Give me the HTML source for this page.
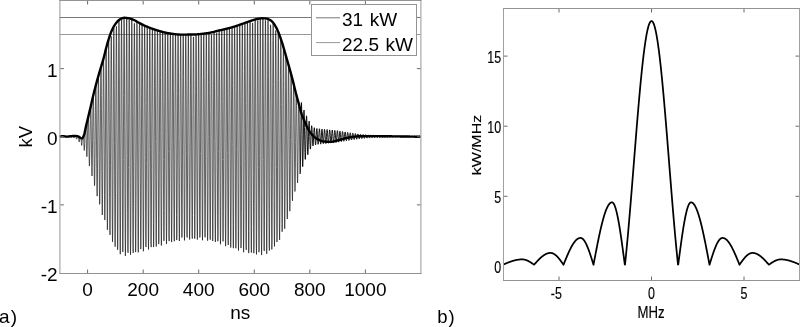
<!DOCTYPE html>
<html><head><meta charset="utf-8"><style>
html,body{margin:0;padding:0;background:#fff;overflow:hidden;}
svg{display:block;will-change:transform;}
</style></head><body>
<svg width="800" height="327" viewBox="0 0 800 327"><rect width="800" height="327" fill="#fff"/><line x1="59.5" y1="17.5" x2="420.5" y2="17.5" stroke="#777" stroke-width="1"/><line x1="59.5" y1="34.5" x2="420.5" y2="34.5" stroke="#999" stroke-width="1"/><path d="M60.04,136.78 L60.27,136.74 L60.49,136.70 L60.71,136.81 L60.93,137.03 L61.16,137.11 L61.38,137.00 L61.60,136.76 L61.82,136.55 L62.04,136.53 L62.27,136.52 L62.49,136.51 L62.71,136.50 L62.93,136.50 L63.16,136.64 L63.38,136.94 L63.60,137.11 L63.82,137.11 L64.04,136.93 L64.27,136.63 L64.49,136.62 L64.71,136.66 L64.93,136.69 L65.16,136.72 L65.38,136.76 L65.60,136.79 L65.82,136.80 L66.04,137.07 L66.27,137.18 L66.49,137.10 L66.71,136.84 L66.93,136.90 L67.16,136.90 L67.38,136.89 L67.60,136.88 L67.82,136.87 L68.04,136.85 L68.27,136.62 L68.49,136.98 L68.71,137.21 L68.93,137.24 L69.16,137.06 L69.38,136.71 L69.60,136.66 L69.82,136.63 L70.04,136.61 L70.27,136.58 L70.49,136.55 L70.71,136.53 L70.93,136.83 L71.16,137.23 L71.38,137.43 L71.60,137.37 L71.82,137.05 L72.04,136.53 L72.27,136.38 L72.49,136.36 L72.71,136.33 L72.93,136.31 L73.16,136.29 L73.38,136.62 L73.60,137.32 L73.82,137.84 L74.04,138.00 L74.27,137.72 L74.49,137.05 L74.71,136.20 L74.93,136.20 L75.16,136.20 L75.38,136.21 L75.60,136.23 L75.82,136.25 L76.04,137.25 L76.27,138.41 L76.49,139.12 L76.71,139.10 L76.93,138.28 L77.16,136.82 L77.38,136.55 L77.60,136.60 L77.82,136.66 L78.04,136.71 L78.27,136.78 L78.49,136.57 L78.71,139.12 L78.93,141.18 L79.16,142.06 L79.38,141.31 L79.60,138.98 L79.82,137.70 L80.04,137.85 L80.27,138.00 L80.49,138.15 L80.71,138.28 L80.93,138.40 L81.16,138.61 L81.38,142.74 L81.60,145.31 L81.82,145.42 L82.04,142.87 L82.27,138.23 L82.49,138.41 L82.71,138.11 L82.93,137.74 L83.16,137.29 L83.38,136.80 L83.60,136.28 L83.82,142.59 L84.04,148.07 L84.27,150.49 L84.49,148.90 L84.71,143.45 L84.93,135.51 L85.16,130.66 L85.38,129.55 L85.60,128.44 L85.82,127.36 L86.04,130.01 L86.27,139.92 L86.49,149.45 L86.71,155.74 L86.93,156.70 L87.16,151.71 L87.38,141.85 L87.60,129.72 L87.82,118.89 L88.04,117.97 L88.27,117.04 L88.49,120.30 L88.71,133.13 L88.93,147.81 L89.16,160.05 L89.38,166.03 L89.60,163.57 L89.82,152.90 L90.04,136.72 L90.27,119.57 L90.49,107.77 L90.71,106.82 L90.93,106.91 L91.16,121.18 L91.38,140.66 L91.60,159.82 L91.82,172.98 L92.04,175.96 L92.27,167.42 L92.49,149.40 L92.71,126.80 L92.93,106.12 L93.16,96.15 L93.38,95.23 L93.60,105.42 L93.82,127.36 L94.04,152.82 L94.27,174.42 L94.49,185.67 L94.71,182.88 L94.93,166.38 L95.16,140.54 L95.38,112.65 L95.60,90.84 L95.82,85.58 L96.04,88.34 L96.27,109.28 L96.49,138.84 L96.71,168.60 L96.93,189.87 L97.16,196.15 L97.38,185.16 L97.60,159.62 L97.82,126.60 L98.04,95.55 L98.27,76.71 L98.49,75.93 L98.71,88.75 L98.93,118.93 L99.16,155.01 L99.38,186.59 L99.60,204.33 L99.82,202.70 L100.04,181.73 L100.27,147.08 L100.49,108.57 L100.71,77.35 L100.93,67.53 L101.16,69.25 L101.38,95.51 L101.60,134.23 L101.82,174.35 L102.04,204.23 L102.27,214.96 L102.49,203.07 L102.71,171.61 L102.93,129.38 L103.16,88.50 L103.38,60.86 L103.60,58.60 L103.82,72.28 L104.04,108.75 L104.27,153.87 L104.49,194.65 L104.71,219.18 L104.93,220.08 L105.16,196.73 L105.38,155.55 L105.60,108.25 L105.82,68.47 L106.04,48.77 L106.27,52.69 L106.49,81.89 L106.71,127.33 L106.93,176.02 L107.16,213.89 L107.38,229.81 L107.60,218.88 L107.82,183.93 L108.04,134.80 L108.27,85.56 L108.49,50.49 L108.71,39.91 L108.93,57.21 L109.16,97.68 L109.38,149.87 L109.60,198.80 L109.82,230.24 L110.04,234.87 L110.27,211.06 L110.49,165.39 L110.71,110.86 L110.93,63.18 L111.16,36.23 L111.38,38.04 L111.60,68.37 L111.82,118.73 L112.04,174.72 L112.27,220.17 L112.49,241.83 L112.71,233.20 L112.93,196.51 L113.16,142.15 L113.38,85.71 L113.60,43.50 L113.82,27.87 L114.04,43.52 L114.27,86.17 L114.49,143.70 L114.71,199.57 L114.93,237.64 L115.16,246.74 L115.38,224.05 L115.60,175.88 L115.82,115.98 L116.04,61.59 L116.27,28.48 L116.49,26.37 L116.71,56.07 L116.93,109.21 L117.16,170.56 L117.38,222.44 L117.60,249.79 L117.82,244.57 L118.04,208.10 L118.27,150.76 L118.49,89.04 L118.71,40.74 L118.93,20.42 L119.16,32.63 L119.38,75.39 L119.60,135.92 L119.82,196.79 L120.04,240.43 L120.27,254.22 L120.49,234.10 L120.71,185.78 L120.93,123.13 L121.16,64.19 L121.38,25.96 L121.60,19.52 L121.82,46.80 L122.04,99.99 L122.27,163.81 L122.49,219.86 L122.71,251.97 L122.93,250.83 L123.16,216.74 L123.38,159.49 L123.60,95.58 L123.82,43.43 L124.04,18.12 L124.27,26.84 L124.49,67.19 L124.71,127.49 L124.93,190.37 L125.16,237.74 L125.38,255.94 L125.60,239.74 L125.82,193.82 L126.04,131.40 L126.27,70.48 L126.49,28.58 L126.71,18.30 L126.93,41.16 L127.16,91.98 L127.38,155.61 L127.60,213.70 L127.82,249.54 L128.04,252.82 L128.27,222.61 L128.49,167.61 L128.71,103.69 L128.93,49.26 L129.16,19.99 L129.38,24.28 L129.60,60.87 L129.82,119.21 L130.04,182.46 L130.27,232.42 L130.49,254.72 L130.71,242.97 L130.93,200.58 L131.16,139.80 L131.38,78.14 L131.60,33.35 L131.82,19.49 L132.04,37.30 L132.27,84.82 L132.49,147.15 L132.71,206.33 L132.93,245.35 L133.16,252.98 L133.38,227.08 L133.60,175.15 L133.82,112.16 L134.04,56.25 L134.27,23.51 L134.49,23.32 L134.71,55.71 L134.93,111.31 L135.16,174.10 L135.38,226.00 L135.60,252.08 L135.82,244.86 L136.04,206.47 L136.27,147.97 L136.49,86.24 L136.71,39.05 L136.93,21.94 L137.16,34.42 L137.38,78.26 L137.60,138.81 L137.82,198.63 L138.04,240.50 L138.27,252.39 L138.49,230.91 L138.71,182.28 L138.93,120.53 L139.16,63.45 L139.38,27.45 L139.60,23.39 L139.82,51.02 L140.04,103.73 L140.27,165.81 L140.49,219.39 L140.71,249.05 L140.93,246.28 L141.16,211.92 L141.38,155.89 L141.60,94.34 L141.82,45.00 L142.04,24.70 L142.27,32.07 L142.49,72.13 L142.71,130.67 L142.93,190.83 L143.16,235.28 L143.38,251.24 L143.60,234.17 L143.82,189.00 L144.04,128.78 L144.27,70.84 L144.49,31.88 L144.71,25.99 L144.93,46.92 L145.16,96.52 L145.38,157.57 L145.60,212.49 L145.82,245.47 L146.04,247.05 L146.27,216.81 L146.49,163.49 L146.71,102.47 L146.93,51.31 L147.16,27.04 L147.38,30.36 L147.60,66.52 L147.82,122.79 L148.04,182.93 L148.27,229.63 L148.49,249.47 L148.71,236.78 L148.93,195.24 L149.16,136.84 L149.38,78.42 L149.60,36.79 L149.82,28.12 L150.04,43.45 L150.27,89.74 L150.49,149.43 L150.71,205.33 L150.93,241.34 L151.16,247.14 L151.38,221.08 L151.60,170.72 L151.82,110.57 L152.04,57.97 L152.27,29.03 L152.49,29.35 L152.71,61.51 L152.93,115.20 L153.16,174.96 L153.38,223.57 L153.60,247.06 L153.82,238.70 L154.04,200.94 L154.27,144.68 L154.49,86.15 L154.71,42.18 L154.93,29.94 L155.16,40.64 L155.38,83.44 L155.60,141.45 L155.82,197.96 L156.04,236.71 L156.27,246.57 L156.49,224.74 L156.71,177.54 L156.93,118.60 L157.16,64.88 L157.38,31.84 L157.60,30.77 L157.82,57.04 L158.05,107.95 L158.27,167.01 L158.49,217.22 L158.71,244.13 L158.93,240.03 L159.16,206.14 L159.38,152.25 L159.60,93.89 L159.82,47.87 L160.05,31.51 L160.27,38.37 L160.49,77.56 L160.71,133.67 L160.93,190.52 L161.16,231.75 L161.38,245.52 L161.60,227.89 L161.82,183.99 L162.05,126.47 L162.27,71.91 L162.49,36.01 L162.71,32.26 L162.93,53.07 L163.16,101.04 L163.38,159.16 L163.60,210.68 L163.82,240.79 L164.05,240.84 L164.27,210.87 L164.49,159.53 L164.71,101.62 L164.93,53.83 L165.16,32.88 L165.38,36.67 L165.60,72.16 L165.82,126.13 L166.05,183.01 L166.27,226.44 L166.49,243.93 L166.71,230.48 L166.93,190.00 L167.16,134.17 L167.38,79.07 L167.60,40.58 L167.82,33.42 L168.05,49.63 L168.27,94.50 L168.49,151.42 L168.71,203.97 L168.93,237.05 L169.16,241.15 L169.38,215.13 L169.60,166.50 L169.82,109.29 L170.05,59.97 L170.27,33.81 L170.49,35.38 L170.71,67.14 L170.93,118.83 L171.16,175.56 L171.38,220.99 L171.60,242.06 L171.82,232.73 L172.05,195.71 L172.27,141.67 L172.49,86.19 L172.71,45.24 L172.93,34.20 L173.16,46.44 L173.38,88.20 L173.60,143.84 L173.82,197.32 L174.05,233.24 L174.27,241.29 L174.49,219.17 L174.71,173.27 L174.93,116.82 L175.16,66.08 L175.38,35.65 L175.60,34.54 L175.82,62.34 L176.05,111.72 L176.27,168.20 L176.49,215.50 L176.71,240.03 L176.93,234.73 L177.16,201.16 L177.38,149.01 L177.60,93.29 L177.82,50.05 L178.05,34.78 L178.27,43.60 L178.49,82.19 L178.71,136.38 L178.93,190.57 L179.16,229.15 L179.38,241.03 L179.60,222.81 L179.82,179.76 L180.05,124.28 L180.27,72.37 L180.49,38.95 L180.71,34.90 L180.93,57.95 L181.16,104.85 L181.38,160.83 L181.60,209.76 L181.82,237.58 L182.05,236.27 L182.27,206.24 L182.49,156.16 L182.71,100.45 L182.93,55.15 L183.16,34.90 L183.38,41.18 L183.60,76.49 L183.82,129.06 L184.05,183.73 L184.27,224.78 L184.49,240.38 L184.71,226.07 L184.93,185.98 L185.16,131.67 L185.38,78.77 L185.60,42.53 L185.82,34.88 L186.05,53.88 L186.27,98.19 L186.49,153.50 L186.71,203.89 L186.93,234.86 L187.16,237.50 L187.38,211.05 L187.60,163.15 L187.82,107.60 L188.05,60.39 L188.27,35.11 L188.49,39.03 L188.71,71.02 L188.93,121.85 L189.16,176.88 L189.38,220.27 L189.60,239.53 L189.82,229.12 L190.05,192.04 L190.27,138.98 L190.49,85.21 L190.71,46.22 L190.93,34.83 L191.16,49.99 L191.38,91.65 L191.60,146.22 L191.82,197.99 L192.05,232.05 L192.27,238.59 L192.49,215.73 L192.71,170.06 L192.93,114.72 L193.16,65.65 L193.38,36.99 L193.60,36.98 L193.82,65.63 L194.05,114.69 L194.27,170.04 L194.49,215.73 L194.71,238.61 L194.93,232.09 L195.16,198.03 L195.38,146.25 L195.60,91.66 L195.82,49.97 L196.05,34.70 L196.27,46.17 L196.49,85.16 L196.71,138.95 L196.93,192.04 L197.16,229.15 L197.38,239.58 L197.60,220.32 L197.82,176.92 L198.05,121.87 L198.27,71.02 L198.49,39.01 L198.71,35.08 L198.93,60.35 L199.16,107.57 L199.38,163.13 L199.60,211.04 L199.82,237.49 L200.05,234.86 L200.27,203.91 L200.49,153.52 L200.71,98.22 L200.93,53.93 L201.16,34.26 L201.38,42.57 L201.60,78.79 L201.82,131.64 L202.05,185.92 L202.27,225.98 L202.49,240.28 L202.71,224.69 L202.93,183.70 L203.16,129.10 L203.38,76.61 L203.60,41.35 L203.82,33.94 L204.05,55.29 L204.27,100.50 L204.49,156.09 L204.71,206.06 L204.93,236.01 L205.16,237.32 L205.38,209.58 L205.60,160.79 L205.82,104.97 L206.05,58.21 L206.27,33.98 L206.49,39.26 L206.71,72.56 L206.93,124.30 L207.16,179.58 L207.38,222.49 L207.60,240.66 L207.82,228.83 L208.05,190.40 L208.27,136.41 L208.49,82.41 L208.71,43.94 L208.93,33.23 L209.16,50.35 L209.38,93.41 L209.60,148.93 L209.82,200.92 L210.05,234.39 L210.27,239.69 L210.49,215.27 L210.71,168.12 L210.93,111.83 L211.16,62.58 L211.38,34.59 L211.60,35.93 L211.82,66.25 L212.05,116.84 L212.27,173.15 L212.49,218.95 L212.71,241.05 L212.93,233.05 L213.16,197.22 L213.38,143.85 L213.60,88.32 L213.82,46.60 L214.05,32.08 L214.27,45.35 L214.49,86.23 L214.71,141.64 L214.93,195.62 L215.16,232.63 L215.38,241.99 L215.60,220.95 L215.82,175.56 L216.05,118.87 L216.27,67.18 L216.49,35.40 L216.71,32.72 L216.93,59.94 L217.16,109.25 L217.38,166.49 L217.60,215.16 L217.82,241.23 L218.05,237.16 L218.27,204.07 L218.49,151.46 L218.71,94.47 L218.93,49.50 L219.16,30.78 L219.38,40.38 L219.60,78.93 L219.82,134.13 L220.05,190.10 L220.27,230.71 L220.49,244.23 L220.71,226.72 L220.93,183.18 L221.16,126.13 L221.38,71.97 L221.60,36.32 L221.82,30.16 L222.05,53.50 L222.27,101.46 L222.49,159.59 L222.71,211.16 L222.93,241.30 L223.16,241.27 L223.38,211.05 L223.60,159.30 L223.82,100.89 L224.05,52.66 L224.27,29.59 L224.49,35.46 L224.71,71.53 L224.93,126.38 L225.16,184.23 L225.38,228.40 L225.60,246.16 L225.82,232.34 L226.05,190.88 L226.27,133.68 L226.49,77.21 L226.71,37.74 L226.93,28.95 L227.16,47.24 L227.38,93.57 L227.60,152.33 L227.82,206.63 L228.05,240.80 L228.27,244.96 L228.49,217.87 L228.71,167.29 L228.93,107.75 L229.16,56.41 L229.38,28.33 L229.60,30.94 L229.82,64.24 L230.05,118.41 L230.27,177.88 L230.49,225.52 L230.71,247.57 L230.93,237.65 L231.16,198.56 L231.38,141.52 L231.60,82.96 L231.82,39.73 L232.05,27.60 L232.27,41.24 L232.49,85.62 L232.71,144.73 L232.93,201.55 L233.16,239.71 L233.38,248.17 L233.60,224.46 L233.82,175.37 L234.05,115.02 L234.27,60.77 L234.49,28.27 L234.71,26.93 L234.93,57.15 L235.16,110.28 L235.38,171.04 L235.60,221.91 L235.82,248.24 L236.05,242.40 L236.27,206.04 L236.49,149.59 L236.71,89.30 L236.93,42.54 L237.16,25.96 L237.38,35.80 L237.60,77.83 L237.82,136.82 L238.05,195.78 L238.27,237.74 L238.49,250.57 L238.71,230.55 L238.93,183.40 L239.16,122.68 L239.38,65.88 L239.60,29.35 L239.82,25.03 L240.05,50.48 L240.27,102.11 L240.49,163.71 L240.71,217.54 L240.93,248.08 L241.16,246.50 L241.38,213.22 L241.60,157.80 L241.82,96.18 L242.05,46.11 L242.27,24.17 L242.49,30.91 L242.71,70.22 L242.93,128.67 L243.16,189.44 L243.38,235.01 L243.60,252.25 L243.82,236.15 L244.05,191.32 L244.27,130.66 L244.49,71.61 L244.71,31.21 L244.93,23.24 L245.16,44.23 L245.38,93.97 L245.60,156.01 L245.82,212.49 L246.05,247.12 L246.27,249.91 L246.49,220.03 L246.71,166.06 L246.93,103.52 L247.16,50.43 L247.38,22.36 L247.60,26.70 L247.82,62.94 L248.05,120.40 L248.27,182.54 L248.49,231.48 L248.71,253.08 L248.93,241.12 L249.16,199.01 L249.38,138.85 L249.60,77.97 L249.82,33.90 L250.05,21.40 L250.27,38.54 L250.49,85.97 L250.71,148.00 L250.93,206.76 L251.16,245.33 L251.38,252.58 L251.60,226.39 L251.82,174.28 L252.05,111.25 L252.27,55.44 L252.49,22.94 L252.71,23.13 L252.93,55.99 L253.16,112.06 L253.38,175.22 L253.60,227.26 L253.82,253.19 L254.05,245.53 L254.27,206.45 L254.49,147.19 L254.71,84.82 L254.93,37.30 L255.16,19.78 L255.38,33.39 L255.60,78.16 L255.82,139.76 L256.05,200.45 L256.27,242.74 L256.49,254.45 L256.71,232.18 L256.93,182.35 L257.16,119.30 L257.38,61.18 L257.60,24.74 L257.82,20.49 L258.05,49.64 L258.27,103.82 L258.49,167.42 L258.71,222.12 L258.93,252.17 L259.16,248.91 L259.38,213.28 L259.60,155.52 L259.82,92.29 L260.05,41.78 L260.27,18.75 L260.49,29.28 L260.71,70.89 L260.93,131.41 L261.16,193.39 L261.38,239.00 L261.60,255.08 L261.82,237.02 L262.05,190.01 L262.27,127.59 L262.49,67.74 L262.71,27.71 L262.93,19.03 L263.16,44.17 L263.38,95.89 L263.60,159.27 L263.82,216.04 L264.05,249.87 L264.27,251.03 L264.49,219.23 L264.71,163.63 L264.93,100.29 L265.16,47.43 L265.38,20.27 L265.60,26.59 L265.82,64.54 L266.05,123.16 L266.27,185.55 L266.49,233.74 L266.71,253.87 L266.93,240.19 L267.16,196.69 L267.38,135.95 L267.60,75.49 L267.82,32.71 L268.05,19.89 L268.27,40.65 L268.49,88.93 L268.71,150.77 L268.93,208.35 L269.16,245.12 L269.38,250.54 L269.60,223.15 L269.82,170.92 L270.05,108.93 L270.27,55.06 L270.49,24.78 L270.71,26.72 L270.93,60.23 L271.16,115.55 L271.38,176.68 L271.60,226.02 L271.82,249.43 L272.05,240.28 L272.27,201.34 L272.49,143.94 L272.71,84.66 L272.93,40.55 L273.16,24.22 L273.38,40.23 L273.60,83.82 L273.82,142.33 L274.05,198.88 L274.27,237.23 L274.49,246.45 L274.71,224.04 L274.93,176.59 L275.16,117.86 L275.38,64.79 L275.60,32.58 L275.82,30.39 L276.05,58.70 L276.27,109.21 L276.49,167.28 L276.71,216.21 L276.93,241.97 L277.16,237.30 L277.38,203.70 L277.60,150.99 L277.82,94.43 L278.05,50.29 L278.27,32.30 L278.49,42.43 L278.71,80.62 L278.93,134.60 L279.16,188.77 L279.38,227.55 L279.60,239.93 L279.82,222.53 L280.05,180.56 L280.27,126.28 L280.49,75.36 L280.71,42.40 L280.93,39.41 L281.16,59.69 L281.38,104.51 L281.60,158.09 L281.82,204.98 L282.05,231.78 L282.27,231.01 L282.49,203.15 L282.71,156.48 L282.93,104.57 L283.16,62.37 L283.38,47.18 L283.60,48.72 L283.82,80.63 L284.05,128.17 L284.27,177.53 L284.49,214.53 L284.71,228.73 L284.93,216.34 L285.16,181.26 L285.38,133.83 L285.60,87.81 L285.82,56.35 L286.05,56.64 L286.27,65.56 L286.49,102.88 L286.71,149.23 L286.93,191.18 L287.16,216.77 L287.38,218.98 L287.60,197.59 L287.82,159.15 L288.05,114.98 L288.27,77.83 L288.49,65.17 L288.71,65.94 L288.93,85.76 L289.16,124.19 L289.38,165.28 L289.60,197.26 L289.82,211.20 L290.05,203.54 L290.27,176.96 L290.49,139.47 L290.71,102.03 L290.93,75.28 L291.16,74.62 L291.38,78.04 L291.60,105.83 L291.82,141.70 L292.05,175.22 L292.27,196.90 L292.49,200.84 L292.71,186.37 L292.93,158.08 L293.16,124.38 L293.38,95.01 L293.60,84.08 L293.82,84.99 L294.05,95.22 L294.27,123.23 L294.49,154.22 L294.71,179.31 L294.93,191.51 L295.16,187.74 L295.38,169.51 L295.60,142.45 L295.82,114.48 L296.05,93.94 L296.27,94.80 L296.49,95.64 L296.71,111.18 L296.94,136.82 L297.16,161.59 L297.38,178.46 L297.60,182.90 L297.82,174.03 L298.05,154.79 L298.27,130.99 L298.49,109.52 L298.71,103.85 L298.94,104.67 L299.16,105.60 L299.38,124.48 L299.60,146.11 L299.82,164.26 L300.05,173.90" fill="none" stroke="#111" stroke-width="0.65" stroke-linejoin="round"/><path d="M300.05,173.90 L300.27,172.59 L300.49,161.10 L300.71,143.08 L300.94,123.90 L301.16,109.03 L301.38,102.53 L301.60,105.89 L301.82,117.76 L302.05,134.45 L302.27,151.02 L302.49,162.80 L302.71,166.67 L302.94,161.85 L303.16,150.08 L303.38,134.96 L303.60,120.89 L303.82,111.80 L304.05,110.06 L304.27,115.86 L304.49,127.25 L304.71,140.79 L304.94,152.57 L305.16,159.32 L305.38,159.35 L305.60,152.92 L305.82,142.12 L306.05,130.19 L306.27,120.56 L306.49,115.84 L306.71,117.17 L306.94,123.89 L307.16,133.87 L307.38,144.12 L307.60,151.74 L307.82,154.69 L308.05,152.35 L308.27,145.67 L308.49,136.77 L308.71,128.29 L308.94,122.60 L309.16,121.15 L309.38,124.08 L309.60,130.33 L309.82,137.93 L310.05,144.67 L310.27,148.72 L310.49,149.12 L310.71,145.97 L310.94,140.34 L311.16,133.93 L311.38,128.57 L311.60,125.74 L311.82,126.08 L312.05,129.33 L312.27,134.41 L312.49,139.82 L312.71,144.02 L312.94,145.93 L313.16,145.10 L313.38,141.90 L313.60,137.28 L313.82,132.55 L314.05,129.04 L314.27,127.71 L314.49,128.92 L314.71,132.26 L314.94,136.77 L315.16,141.14 L315.38,144.12 L315.60,144.89 L315.82,143.25 L316.05,139.69 L316.27,135.26 L316.49,131.23 L316.71,128.75 L316.94,128.51 L317.16,130.56 L317.38,134.30 L317.60,138.63 L317.82,142.32 L318.05,144.31 L318.27,144.04 L318.49,141.61 L318.71,137.74 L318.94,133.54 L319.16,130.23 L319.38,128.74 L319.60,129.48 L319.82,132.24 L320.05,136.20 L320.27,140.22 L320.49,143.14 L320.71,144.14 L320.94,142.94 L321.16,139.90 L321.38,135.90 L321.60,132.10 L321.82,129.59 L322.05,129.07 L322.27,130.69 L322.49,133.97 L322.71,137.96 L322.94,141.50 L323.16,143.59 L323.38,143.63 L323.60,141.62 L323.82,138.15 L324.05,134.24 L324.27,130.99 L324.49,129.35 L324.71,129.77 L324.94,132.12 L325.16,135.71 L325.38,139.51 L325.60,142.42 L325.82,143.61 L326.05,142.75 L326.27,140.10 L326.49,136.44 L326.71,132.82 L326.94,130.27 L327.16,129.53 L327.38,130.80 L327.60,133.69 L327.82,137.37 L328.05,140.79 L328.27,142.94 L328.49,143.24 L328.71,141.60 L328.94,138.50 L329.16,134.85 L329.38,131.69 L329.60,129.94 L329.82,130.07 L330.05,132.05 L330.27,135.30 L330.49,138.87 L330.71,141.74 L330.94,143.08 L331.16,142.53 L331.38,140.25 L331.60,136.91 L331.82,133.47 L332.05,130.92 L332.27,130.00 L332.49,130.94 L332.71,133.48 L332.94,136.86 L333.16,140.12 L333.38,142.31 L333.60,142.82 L333.82,141.51 L334.05,138.78 L334.27,135.41 L334.49,132.38 L334.71,130.56 L334.94,130.46 L335.16,132.09 L335.38,134.97 L335.60,138.27 L335.82,141.02 L336.05,142.45 L336.27,142.16 L336.49,140.25 L336.71,137.29 L336.94,134.13 L337.16,131.68 L337.38,130.65 L337.60,131.30 L337.82,133.43 L338.05,136.42 L338.27,139.39 L338.49,141.50 L338.71,142.15 L338.94,141.18 L339.16,138.88 L339.38,135.92 L339.60,133.18 L339.82,131.42 L340.05,131.13 L340.27,132.39 L340.49,134.81 L340.71,137.67 L340.94,140.16 L341.16,141.57 L341.38,141.51 L341.60,140.01 L341.82,137.53 L342.05,134.80 L342.27,132.59 L342.49,131.53 L342.71,131.91 L342.94,133.60 L343.16,136.08 L343.38,138.65 L343.60,140.57 L343.82,141.29 L344.05,140.63 L344.27,138.80 L344.49,136.34 L344.71,133.97 L344.94,132.35 L345.16,131.94 L345.38,132.85 L345.60,134.78 L345.82,137.17 L346.05,139.34 L346.27,140.65 L346.49,140.76 L346.71,139.65 L346.94,137.66 L347.16,135.37 L347.38,133.44 L347.60,132.42 L347.82,132.59 L348.05,133.86 L348.27,135.87 L348.49,138.02 L348.71,139.70 L348.94,140.43 L349.16,140.03 L349.38,138.62 L349.60,136.64 L349.82,134.66 L350.05,133.24 L350.27,132.77 L350.49,133.38 L350.71,134.87 L350.94,136.79 L351.16,138.59 L351.38,139.76 L351.60,139.98 L351.82,139.19 L352.05,137.66 L352.27,135.83 L352.49,134.22 L352.71,133.30 L352.94,133.31 L353.16,134.23 L353.38,135.78 L353.60,137.50 L353.82,138.90 L354.05,139.59 L354.27,139.39 L354.49,138.36 L354.71,136.83 L354.94,135.23 L355.16,134.03 L355.38,133.56 L355.60,133.93 L355.82,135.03 L356.05,136.53 L356.27,137.99 L356.49,138.99 L356.71,139.26 L356.94,138.74 L357.16,137.59 L357.38,136.16 L357.60,134.86 L357.82,134.05 L358.05,133.96 L358.27,134.60 L358.49,135.76 L358.71,137.11 L358.94,138.25 L359.16,138.86 L359.38,138.79 L359.60,138.07 L359.82,136.92 L360.05,135.67 L360.27,134.69 L360.49,134.25 L360.71,134.46 L360.94,135.25 L361.16,136.37 L361.38,137.50 L361.60,138.32 L361.82,138.60 L362.05,138.28 L362.27,137.46 L362.49,136.38 L362.71,135.36 L362.94,134.69 L363.16,134.55 L363.38,134.97 L363.60,135.81 L363.82,136.83 L364.05,137.74 L364.27,138.27 L364.49,138.29 L364.71,137.80 L364.94,136.94 L365.16,135.98 L365.38,135.18 L365.60,134.78 L365.82,134.87 L366.05,135.43 L366.27,136.28 L366.49,137.18 L366.71,137.87 L366.94,138.15 L367.16,137.96 L367.38,137.36 L367.60,136.52 L367.82,135.69 L368.05,135.11 L368.27,134.94 L368.49,135.21 L368.71,135.85 L368.94,136.66 L369.16,137.41 L369.38,137.89 L369.60,137.96 L369.82,137.61 L370.05,136.95 L370.27,136.18 L370.49,135.51 L370.71,135.14 L370.94,135.16 L371.16,135.57 L371.38,136.23 L371.60,136.95 L371.82,137.54 L372.05,137.81 L372.27,137.71 L372.49,137.26 L372.71,136.61 L372.94,135.93 L373.16,135.43 L373.38,135.24 L373.60,135.42 L373.82,135.90 L374.05,136.54 L374.27,137.16 L374.49,137.58 L374.71,137.68 L374.94,137.45 L375.16,136.94 L375.38,136.32 L375.60,135.76 L375.82,135.42 L376.05,135.39 L376.27,135.68 L376.49,136.20 L376.71,136.80 L376.94,137.30 L377.16,137.56 L377.38,137.52 L377.60,137.19 L377.82,136.66 L378.05,136.10 L378.27,135.66 L378.49,135.46 L378.71,135.57 L378.94,135.94 L379.16,136.46 L379.38,136.99 L379.60,137.38 L379.82,137.50 L380.05,137.34 L380.27,136.94 L380.49,136.42 L380.71,135.92 L380.94,135.60 L381.16,135.54 L381.38,135.75 L381.60,136.18 L381.82,136.69 L382.05,137.15 L382.27,137.41 L382.49,137.41 L382.71,137.15 L382.94,136.71 L383.16,136.21 L383.38,135.80 L383.60,135.59 L383.82,135.65 L384.05,135.95 L384.27,136.40 L384.49,136.88 L384.71,137.25 L384.94,137.39 L385.16,137.28 L385.38,136.95 L385.60,136.49 L385.82,136.04 L386.05,135.72 L386.27,135.63 L386.49,135.79 L386.71,136.15 L386.94,136.61 L387.16,137.03 L387.38,137.30 L387.60,137.33 L387.82,137.13 L388.05,136.74 L388.27,136.29 L388.49,135.91 L388.71,135.69 L388.94,135.71 L389.16,135.96 L389.38,136.36 L389.60,136.79 L389.82,137.14 L390.05,137.30 L390.27,137.23 L390.49,136.95 L390.71,136.55 L390.94,136.13 L391.16,135.82 L391.38,135.71 L391.60,135.83 L391.82,136.14 L392.05,136.55 L392.27,136.94 L392.49,137.21 L392.71,137.27 L392.94,137.11 L393.16,136.77 L393.38,136.36 L393.60,136.00 L393.82,135.78 L394.05,135.77 L394.27,135.96 L394.49,136.32 L394.71,136.72 L394.94,137.06 L395.16,137.23 L395.38,137.19 L395.60,136.96 L395.82,136.59 L396.05,136.20 L396.27,135.90 L396.49,135.77 L396.71,135.85 L396.94,136.12 L397.16,136.49 L397.38,136.87 L397.60,137.13 L397.82,137.22 L398.05,137.09 L398.27,136.80 L398.49,136.42 L398.71,136.07 L398.94,135.84 L399.16,135.80 L399.38,135.97 L399.60,136.28 L399.82,136.66 L400.05,136.99 L400.27,137.17 L400.49,137.17 L400.71,136.97 L400.94,136.64 L401.16,136.27 L401.38,135.97 L401.60,135.82 L401.82,135.87 L402.05,136.10 L402.27,136.44 L402.49,136.80 L402.71,137.07 L402.94,137.18 L403.16,137.09 L403.38,136.83 L403.60,136.47 L403.82,136.13 L404.05,135.90 L404.27,135.83 L404.49,135.96 L404.71,136.25 L404.94,136.60 L405.16,136.93 L405.38,137.13 L405.60,137.14 L405.82,136.98 L406.05,136.67 L406.27,136.32 L406.49,136.02 L406.71,135.86 L406.94,135.88 L407.16,136.08 L407.38,136.40 L407.60,136.75 L407.82,137.02 L408.05,137.14 L408.27,137.08 L408.49,136.85 L408.71,136.52 L408.94,136.19 L409.16,135.95 L409.38,135.86 L409.60,135.97 L409.82,136.22 L410.05,136.55 L410.27,136.87 L410.49,137.08 L410.71,137.12 L410.94,136.98 L411.16,136.71 L411.38,136.37 L411.60,136.08 L411.82,135.90 L412.05,135.90 L412.27,136.07 L412.49,136.36 L412.71,136.70 L412.94,136.97 L413.16,137.11 L413.38,137.07 L413.60,136.87 L413.82,136.56 L414.05,136.24 L414.27,135.99 L414.49,135.89 L414.71,135.96 L414.94,136.19 L415.16,136.51 L415.38,136.82 L415.60,137.04 L415.82,137.11 L416.05,136.99 L416.27,136.74 L416.49,136.42 L416.71,136.12 L416.94,135.93 L417.16,135.91 L417.38,136.05 L417.60,136.33 L417.82,136.65 L418.05,136.93 L418.27,137.09 L418.49,137.07 L418.71,136.90 L418.94,136.60 L419.16,136.28 L419.38,136.03 L419.60,135.90 L419.82,135.95 L420.05,136.16 L420.27,136.47 L420.49,136.78 L420.71,137.01" fill="none" stroke="#000" stroke-width="0.9" stroke-linejoin="round"/><path d="M59.50,136.59 L60.00,136.49 L60.50,136.40 L61.00,136.33 L61.50,136.27 L62.00,136.23 L62.50,136.21 L63.00,136.20 L63.50,136.22 L64.00,136.26 L64.50,136.33 L65.00,136.40 L65.50,136.47 L66.00,136.54 L66.50,136.58 L67.00,136.60 L67.50,136.59 L68.00,136.55 L68.50,136.50 L69.00,136.44 L69.50,136.38 L70.00,136.31 L70.50,136.25 L71.00,136.20 L71.50,136.15 L72.00,136.10 L72.50,136.05 L73.00,136.01 L73.50,135.96 L74.00,135.93 L74.50,135.91 L75.00,135.90 L75.50,135.92 L76.00,135.98 L76.50,136.06 L77.00,136.16 L77.50,136.28 L78.00,136.40 L78.50,136.58 L79.00,136.85 L79.50,137.18 L80.00,137.52 L80.50,137.85 L81.00,138.13 L81.50,138.33 L82.00,138.40 L82.50,138.10 L83.00,137.31 L83.50,136.22 L84.00,135.00 L84.50,133.36 L85.00,131.13 L85.50,128.64 L86.00,126.24 L86.50,124.10 L87.00,122.00 L87.50,119.93 L88.00,117.85 L88.50,115.77 L89.00,113.69 L89.50,111.62 L90.00,109.54 L90.50,107.43 L91.00,105.27 L91.50,103.06 L92.00,100.83 L92.50,98.64 L93.00,96.50 L93.50,94.43 L94.00,92.39 L94.50,90.39 L95.00,88.43 L95.50,86.50 L96.00,84.61 L96.50,82.76 L97.00,80.94 L97.50,79.14 L98.00,77.36 L98.50,75.59 L99.00,73.84 L99.50,72.12 L100.00,70.40 L100.50,68.70 L101.00,67.00 L101.50,65.33 L102.00,63.71 L102.50,62.08 L103.00,60.41 L103.50,58.66 L104.00,56.79 L104.50,54.79 L105.00,52.71 L105.50,50.64 L106.00,48.64 L106.50,46.76 L107.00,44.93 L107.50,43.14 L108.00,41.41 L108.50,39.76 L109.00,38.19 L109.50,36.68 L110.00,35.20 L110.50,33.78 L111.00,32.43 L111.50,31.17 L112.00,30.02 L112.50,28.96 L113.00,27.97 L113.50,27.03 L114.00,26.15 L114.50,25.33 L115.00,24.57 L115.50,23.86 L116.00,23.20 L116.50,22.56 L117.00,21.96 L117.50,21.41 L118.00,20.90 L118.50,20.46 L119.00,20.07 L119.50,19.70 L120.00,19.35 L120.50,19.03 L121.00,18.74 L121.50,18.49 L122.00,18.29 L122.50,18.14 L123.00,18.01 L123.50,17.90 L124.00,17.82 L124.50,17.80 L125.00,17.82 L125.50,17.85 L126.00,17.91 L126.50,17.97 L127.00,18.04 L127.50,18.12 L128.00,18.20 L128.50,18.29 L129.00,18.39 L129.50,18.50 L130.00,18.63 L130.50,18.77 L131.00,18.92 L131.50,19.08 L132.00,19.25 L132.50,19.42 L133.00,19.60 L133.50,19.80 L134.00,20.02 L134.50,20.27 L135.00,20.53 L135.50,20.81 L136.00,21.10 L136.50,21.39 L137.00,21.68 L137.50,21.96 L138.00,22.24 L138.50,22.50 L139.00,22.77 L139.50,23.04 L140.00,23.31 L140.50,23.58 L141.00,23.85 L141.50,24.11 L142.00,24.38 L142.50,24.64 L143.00,24.89 L143.50,25.14 L144.00,25.37 L144.50,25.60 L145.00,25.82 L145.50,26.04 L146.00,26.25 L146.50,26.47 L147.00,26.68 L147.50,26.88 L148.00,27.09 L148.50,27.29 L149.00,27.49 L149.50,27.69 L150.00,27.88 L150.50,28.08 L151.00,28.26 L151.50,28.45 L152.00,28.63 L152.50,28.81 L153.00,28.99 L153.50,29.16 L154.00,29.33 L154.50,29.50 L155.00,29.67 L155.50,29.83 L156.00,29.98 L156.50,30.14 L157.00,30.29 L157.50,30.44 L158.00,30.59 L158.50,30.75 L159.00,30.90 L159.50,31.05 L160.00,31.19 L160.50,31.34 L161.00,31.48 L161.50,31.63 L162.00,31.77 L162.50,31.90 L163.00,32.04 L163.50,32.17 L164.00,32.30 L164.50,32.42 L165.00,32.54 L165.50,32.66 L166.00,32.77 L166.50,32.87 L167.00,32.97 L167.50,33.07 L168.00,33.16 L168.50,33.24 L169.00,33.31 L169.50,33.39 L170.00,33.47 L170.50,33.54 L171.00,33.62 L171.50,33.69 L172.00,33.77 L172.50,33.84 L173.00,33.91 L173.50,33.98 L174.00,34.05 L174.50,34.11 L175.00,34.17 L175.50,34.23 L176.00,34.29 L176.50,34.34 L177.00,34.39 L177.50,34.43 L178.00,34.47 L178.50,34.51 L179.00,34.54 L179.50,34.56 L180.00,34.58 L180.50,34.59 L181.00,34.60 L181.50,34.60 L182.00,34.60 L182.50,34.60 L183.00,34.60 L183.50,34.60 L184.00,34.59 L184.50,34.59 L185.00,34.59 L185.50,34.59 L186.00,34.58 L186.50,34.58 L187.00,34.58 L187.50,34.57 L188.00,34.57 L188.50,34.56 L189.00,34.56 L189.50,34.55 L190.00,34.55 L190.50,34.54 L191.00,34.53 L191.50,34.53 L192.00,34.52 L192.50,34.51 L193.00,34.51 L193.50,34.50 L194.00,34.49 L194.50,34.47 L195.00,34.46 L195.50,34.43 L196.00,34.41 L196.50,34.38 L197.00,34.34 L197.50,34.31 L198.00,34.27 L198.50,34.23 L199.00,34.18 L199.50,34.14 L200.00,34.09 L200.50,34.04 L201.00,33.98 L201.50,33.93 L202.00,33.87 L202.50,33.81 L203.00,33.75 L203.50,33.69 L204.00,33.62 L204.50,33.56 L205.00,33.49 L205.50,33.43 L206.00,33.36 L206.50,33.29 L207.00,33.23 L207.50,33.16 L208.00,33.08 L208.50,33.00 L209.00,32.91 L209.50,32.82 L210.00,32.72 L210.50,32.62 L211.00,32.51 L211.50,32.40 L212.00,32.28 L212.50,32.17 L213.00,32.04 L213.50,31.92 L214.00,31.79 L214.50,31.67 L215.00,31.54 L215.50,31.41 L216.00,31.28 L216.50,31.15 L217.00,31.02 L217.50,30.89 L218.00,30.77 L218.50,30.64 L219.00,30.52 L219.50,30.40 L220.00,30.28 L220.50,30.16 L221.00,30.05 L221.50,29.93 L222.00,29.82 L222.50,29.70 L223.00,29.58 L223.50,29.47 L224.00,29.35 L224.50,29.23 L225.00,29.12 L225.50,29.00 L226.00,28.88 L226.50,28.76 L227.00,28.63 L227.50,28.51 L228.00,28.39 L228.50,28.26 L229.00,28.13 L229.50,28.00 L230.00,27.87 L230.50,27.73 L231.00,27.60 L231.50,27.46 L232.00,27.31 L232.50,27.17 L233.00,27.02 L233.50,26.86 L234.00,26.71 L234.50,26.55 L235.00,26.39 L235.50,26.22 L236.00,26.06 L236.50,25.89 L237.00,25.72 L237.50,25.54 L238.00,25.37 L238.50,25.20 L239.00,25.02 L239.50,24.84 L240.00,24.67 L240.50,24.49 L241.00,24.31 L241.50,24.14 L242.00,23.96 L242.50,23.79 L243.00,23.61 L243.50,23.44 L244.00,23.27 L244.50,23.09 L245.00,22.92 L245.50,22.74 L246.00,22.56 L246.50,22.38 L247.00,22.19 L247.50,22.01 L248.00,21.83 L248.50,21.65 L249.00,21.47 L249.50,21.29 L250.00,21.12 L250.50,20.95 L251.00,20.78 L251.50,20.61 L252.00,20.45 L252.50,20.30 L253.00,20.15 L253.50,19.99 L254.00,19.83 L254.50,19.68 L255.00,19.53 L255.50,19.38 L256.00,19.24 L256.50,19.11 L257.00,18.99 L257.50,18.89 L258.00,18.80 L258.50,18.72 L259.00,18.64 L259.50,18.56 L260.00,18.48 L260.50,18.42 L261.00,18.37 L261.50,18.33 L262.00,18.30 L262.50,18.30 L263.00,18.31 L263.50,18.33 L264.00,18.35 L264.50,18.38 L265.00,18.42 L265.50,18.47 L266.00,18.52 L266.50,18.58 L267.00,18.65 L267.50,18.79 L268.00,18.97 L268.50,19.20 L269.00,19.45 L269.50,19.70 L270.00,19.97 L270.50,20.29 L271.00,20.64 L271.50,21.04 L272.00,21.49 L272.50,22.00 L273.00,22.59 L273.50,23.23 L274.00,23.93 L274.50,24.68 L275.00,25.47 L275.50,26.29 L276.00,27.15 L276.50,28.09 L277.00,29.11 L277.50,30.21 L278.00,31.36 L278.50,32.56 L279.00,33.80 L279.50,35.07 L280.00,36.42 L280.50,37.83 L281.00,39.30 L281.50,40.82 L282.00,42.37 L282.50,43.96 L283.00,45.60 L283.50,47.30 L284.00,49.04 L284.50,50.81 L285.00,52.59 L285.50,54.39 L286.00,56.18 L286.50,57.95 L287.00,59.70 L287.50,61.44 L288.00,63.17 L288.50,64.91 L289.00,66.64 L289.50,68.39 L290.00,70.16 L290.50,71.94 L291.00,73.74 L291.50,75.58 L292.00,77.46 L292.50,79.38 L293.00,81.36 L293.50,83.37 L294.00,85.40 L294.50,87.44 L295.00,89.47 L295.50,91.48 L296.00,93.46 L296.50,95.38 L297.00,97.26 L297.50,99.11 L298.00,100.94 L298.50,102.77 L299.00,104.61 L299.50,106.52 L300.00,108.44 L300.50,110.32 L301.00,112.09 L301.50,113.70 L302.00,115.14 L302.50,116.47 L303.00,117.72 L303.50,118.91 L304.00,120.06 L304.50,121.18 L305.00,122.30 L305.50,123.43 L306.00,124.56 L306.50,125.69 L307.00,126.78 L307.50,127.82 L308.00,128.80 L308.50,129.70 L309.00,130.52 L309.50,131.29 L310.00,132.03 L310.50,132.73 L311.00,133.41 L311.50,134.04 L312.00,134.64 L312.50,135.20 L313.00,135.72 L313.50,136.20 L314.00,136.65 L314.50,137.08 L315.00,137.49 L315.50,137.87 L316.00,138.24 L316.50,138.58 L317.00,138.90 L317.50,139.19 L318.00,139.46 L318.50,139.69 L319.00,139.92 L319.50,140.14 L320.00,140.36 L320.50,140.57 L321.00,140.76 L321.50,140.94 L322.00,141.10 L322.50,141.24 L323.00,141.35 L323.50,141.45 L324.00,141.51 L324.50,141.56 L325.00,141.62 L325.50,141.66 L326.00,141.71 L326.50,141.75 L327.00,141.79 L327.50,141.82 L328.00,141.85 L328.50,141.87 L329.00,141.89 L329.50,141.90 L330.00,141.90 L330.50,141.89 L331.00,141.85 L331.50,141.80 L332.00,141.73 L332.50,141.65 L333.00,141.56 L333.50,141.47 L334.00,141.37 L334.50,141.28 L335.00,141.18 L335.50,141.07 L336.00,140.94 L336.50,140.81 L337.00,140.67 L337.50,140.52 L338.00,140.37 L338.50,140.22 L339.00,140.06 L339.50,139.91 L340.00,139.77 L340.50,139.63 L341.00,139.49 L341.50,139.35 L342.00,139.22 L342.50,139.08 L343.00,138.94 L343.50,138.80 L344.00,138.66 L344.50,138.53 L345.00,138.40 L345.50,138.28 L346.00,138.16 L346.50,138.04 L347.00,137.94 L347.50,137.83 L348.00,137.73 L348.50,137.63 L349.00,137.53 L349.50,137.43 L350.00,137.34 L350.50,137.25 L351.00,137.16 L351.50,137.08 L352.00,137.01 L352.50,136.94 L353.00,136.87 L353.50,136.81 L354.00,136.75 L354.50,136.68 L355.00,136.62 L355.50,136.57 L356.00,136.51 L356.50,136.46 L357.00,136.42 L357.50,136.38 L358.00,136.34 L358.50,136.32 L359.00,136.30 L359.50,136.28 L360.00,136.27 L360.50,136.25 L361.00,136.24 L361.50,136.22 L362.00,136.21 L362.50,136.20 L363.00,136.19 L363.50,136.17 L364.00,136.16 L364.50,136.15 L365.00,136.14 L365.50,136.14 L366.00,136.13 L366.50,136.12 L367.00,136.12 L367.50,136.11 L368.00,136.11 L368.50,136.10 L369.00,136.10 L369.50,136.10 L370.00,136.10 L370.50,136.10 L371.00,136.10 L371.50,136.10 L372.00,136.10 L372.50,136.11 L373.00,136.11 L373.50,136.11 L374.00,136.11 L374.50,136.12 L375.00,136.12 L375.50,136.12 L376.00,136.13 L376.50,136.13 L377.00,136.14 L377.50,136.14 L378.00,136.15 L378.50,136.15 L379.00,136.16 L379.50,136.17 L380.00,136.17 L380.50,136.18 L381.00,136.18 L381.50,136.19 L382.00,136.20 L382.50,136.20 L383.00,136.21 L383.50,136.22 L384.00,136.22 L384.50,136.23 L385.00,136.24 L385.50,136.24 L386.00,136.25 L386.50,136.26 L387.00,136.26 L387.50,136.27 L388.00,136.28 L388.50,136.28 L389.00,136.29 L389.50,136.29 L390.00,136.30 L390.50,136.31 L391.00,136.31 L391.50,136.32 L392.00,136.32 L392.50,136.33 L393.00,136.34 L393.50,136.34 L394.00,136.35 L394.50,136.35 L395.00,136.36 L395.50,136.37 L396.00,136.37 L396.50,136.38 L397.00,136.39 L397.50,136.39 L398.00,136.40 L398.50,136.41 L399.00,136.41 L399.50,136.42 L400.00,136.43 L400.50,136.43 L401.00,136.44 L401.50,136.45 L402.00,136.45 L402.50,136.46 L403.00,136.47 L403.50,136.48 L404.00,136.48 L404.50,136.49 L405.00,136.50 L405.50,136.51 L406.00,136.52 L406.50,136.52 L407.00,136.53 L407.50,136.54 L408.00,136.55 L408.50,136.56 L409.00,136.57 L409.50,136.58 L410.00,136.59 L410.50,136.59 L411.00,136.60 L411.50,136.61 L412.00,136.62 L412.50,136.63 L413.00,136.64 L413.50,136.65 L414.00,136.66 L414.50,136.67 L415.00,136.68 L415.50,136.69 L416.00,136.70 L416.50,136.71 L417.00,136.72 L417.50,136.73 L418.00,136.75 L418.50,136.76 L419.00,136.77 L419.50,136.78 L420.00,136.79 L420.50,136.80" fill="none" stroke="#000" stroke-width="2.4" stroke-linejoin="round"/><path d="M59.9,0 V274 M420.9,0 V274" stroke="#a0a0a0" stroke-width="1.1" fill="none"/><path d="M59.4,0.5 H421.4 M59.4,273.5 H421.4" stroke="#939393" stroke-width="1" fill="none"/><path d="M87.60,273v-3.5 M87.60,1v3.5 M143.16,273v-3.5 M143.16,1v3.5 M198.71,273v-3.5 M198.71,1v3.5 M254.27,273v-3.5 M254.27,1v3.5 M309.82,273v-3.5 M309.82,1v3.5 M365.38,273v-3.5 M365.38,1v3.5 M60.4,204.88h3.5 M420.4,204.88h-3.5 M60.4,136.75h3.5 M420.4,136.75h-3.5 M60.4,68.62h3.5 M420.4,68.62h-3.5" stroke="#6a6a6a" stroke-width="1" fill="none"/><rect x="311.5" y="4.5" width="105" height="51" fill="#fff" stroke="#939393" stroke-width="1"/><line x1="316" y1="17.8" x2="340" y2="17.8" stroke="#777" stroke-width="1"/><line x1="316" y1="42.6" x2="340" y2="42.6" stroke="#999" stroke-width="1"/><text x="342" y="25.8" font-family="Liberation Sans, sans-serif" font-size="19" fill="#000" word-spacing="1.3">31 kW</text><text x="342" y="50.5" font-family="Liberation Sans, sans-serif" font-size="19" fill="#000" word-spacing="1.3">22.5 kW</text><text x="87.60" y="295.5" font-family="Liberation Sans, sans-serif" font-size="19" text-anchor="middle">0</text><text x="143.16" y="295.5" font-family="Liberation Sans, sans-serif" font-size="19" text-anchor="middle">200</text><text x="198.71" y="295.5" font-family="Liberation Sans, sans-serif" font-size="19" text-anchor="middle">400</text><text x="254.27" y="295.5" font-family="Liberation Sans, sans-serif" font-size="19" text-anchor="middle">600</text><text x="309.82" y="295.5" font-family="Liberation Sans, sans-serif" font-size="19" text-anchor="middle">800</text><text x="365.38" y="295.5" font-family="Liberation Sans, sans-serif" font-size="19" text-anchor="middle">1000</text><text x="57.6" y="281.30" font-family="Liberation Sans, sans-serif" font-size="19" text-anchor="end">-2</text><text x="57.6" y="213.18" font-family="Liberation Sans, sans-serif" font-size="19" text-anchor="end">-1</text><text x="57.6" y="145.05" font-family="Liberation Sans, sans-serif" font-size="19" text-anchor="end">0</text><text x="57.6" y="76.92" font-family="Liberation Sans, sans-serif" font-size="19" text-anchor="end">1</text><text x="240.3" y="318.5" font-family="Liberation Sans, sans-serif" font-size="19" text-anchor="middle">ns</text><text transform="translate(31.8,136.6) rotate(-90)" x="0" y="0" font-family="Liberation Sans, sans-serif" font-size="18.6" text-anchor="middle">kV</text><text x="-1" y="322.7" font-family="Liberation Sans, sans-serif" font-size="19">a<tspan dx="1.2">)</tspan></text><path d="M503.50,264.50 L503.75,264.39 L504.00,264.28 L504.25,264.17 L504.50,264.07 L504.75,263.96 L505.00,263.85 L505.25,263.74 L505.50,263.64 L505.75,263.53 L506.00,263.42 L506.25,263.32 L506.50,263.21 L506.75,263.11 L507.00,263.01 L507.25,262.90 L507.50,262.80 L507.75,262.70 L508.00,262.60 L508.25,262.50 L508.50,262.40 L508.75,262.30 L509.00,262.21 L509.25,262.11 L509.50,262.02 L509.75,261.92 L510.00,261.83 L510.25,261.74 L510.50,261.65 L510.75,261.56 L511.00,261.47 L511.25,261.39 L511.50,261.30 L511.75,261.22 L512.00,261.14 L512.25,261.06 L512.50,260.98 L512.75,260.90 L513.00,260.83 L513.25,260.76 L513.50,260.68 L513.75,260.61 L514.00,260.54 L514.25,260.48 L514.50,260.41 L514.75,260.35 L515.00,260.29 L515.25,260.23 L515.50,260.17 L515.75,260.11 L516.00,260.06 L516.25,260.01 L516.50,259.96 L516.75,259.91 L517.00,259.86 L517.25,259.82 L517.50,259.78 L517.75,259.74 L518.00,259.70 L518.25,259.67 L518.50,259.63 L518.75,259.60 L519.00,259.57 L519.25,259.54 L519.50,259.52 L519.75,259.50 L520.00,259.48 L520.25,259.46 L520.50,259.44 L520.75,259.43 L521.00,259.42 L521.25,259.41 L521.50,259.40 L521.75,259.39 L522.00,259.39 L522.25,259.39 L522.50,259.39 L522.75,259.40 L523.00,259.42 L523.25,259.44 L523.50,259.47 L523.75,259.50 L524.00,259.54 L524.25,259.58 L524.50,259.63 L524.75,259.69 L525.00,259.75 L525.25,259.82 L525.50,259.89 L525.75,259.96 L526.00,260.05 L526.25,260.13 L526.50,260.23 L526.75,260.32 L527.00,260.42 L527.25,260.53 L527.50,260.64 L527.75,260.76 L528.00,260.88 L528.25,261.00 L528.50,261.13 L528.75,261.26 L529.00,261.40 L529.25,261.54 L529.50,261.68 L529.75,261.82 L530.00,261.97 L530.25,262.13 L530.50,262.28 L530.75,262.44 L531.00,262.60 L531.25,262.76 L531.50,262.92 L531.75,263.09 L532.00,263.26 L532.25,263.43 L532.50,263.60 L532.75,263.77 L533.00,263.95 L533.25,264.12 L533.50,264.30 L533.75,264.47 L534.00,264.65 L534.25,264.55 L534.50,264.27 L534.75,263.98 L535.00,263.70 L535.25,263.42 L535.50,263.14 L535.75,262.86 L536.00,262.59 L536.25,262.31 L536.50,262.03 L536.75,261.76 L537.00,261.49 L537.25,261.22 L537.50,260.95 L537.75,260.68 L538.00,260.42 L538.25,260.16 L538.50,259.90 L538.75,259.64 L539.00,259.39 L539.25,259.14 L539.50,258.89 L539.75,258.65 L540.00,258.41 L540.25,258.17 L540.50,257.94 L540.75,257.71 L541.00,257.49 L541.25,257.27 L541.50,257.05 L541.75,256.84 L542.00,256.63 L542.25,256.43 L542.50,256.23 L542.75,256.04 L543.00,255.85 L543.25,255.67 L543.50,255.49 L543.75,255.32 L544.00,255.15 L544.25,254.99 L544.50,254.83 L544.75,254.68 L545.00,254.54 L545.25,254.40 L545.50,254.27 L545.75,254.14 L546.00,254.02 L546.25,253.90 L546.50,253.79 L546.75,253.69 L547.00,253.60 L547.25,253.51 L547.50,253.42 L547.75,253.35 L548.00,253.28 L548.25,253.21 L548.50,253.16 L548.75,253.11 L549.00,253.06 L549.25,253.03 L549.50,252.99 L549.75,252.97 L550.00,252.95 L550.25,252.94 L550.50,252.94 L550.75,252.95 L551.00,252.96 L551.25,252.99 L551.50,253.03 L551.75,253.07 L552.00,253.13 L552.25,253.20 L552.50,253.28 L552.75,253.37 L553.00,253.47 L553.25,253.58 L553.50,253.71 L553.75,253.84 L554.00,253.98 L554.25,254.13 L554.50,254.29 L554.75,254.46 L555.00,254.64 L555.25,254.83 L555.50,255.03 L555.75,255.23 L556.00,255.45 L556.25,255.67 L556.50,255.90 L556.75,256.14 L557.00,256.39 L557.25,256.65 L557.50,256.91 L557.75,257.18 L558.00,257.45 L558.25,257.74 L558.50,258.03 L558.75,258.32 L559.00,258.63 L559.25,258.93 L559.50,259.24 L559.75,259.56 L560.00,259.88 L560.25,260.21 L560.50,260.54 L560.75,260.88 L561.00,261.21 L561.25,261.56 L561.50,261.90 L561.75,262.25 L562.00,262.59 L562.25,262.95 L562.50,263.30 L562.75,263.65 L563.00,264.01 L563.25,264.36 L563.50,264.72 L563.75,264.10 L564.00,263.48 L564.25,262.86 L564.50,262.25 L564.75,261.63 L565.00,261.02 L565.25,260.41 L565.50,259.80 L565.75,259.19 L566.00,258.59 L566.25,257.99 L566.50,257.39 L566.75,256.80 L567.00,256.21 L567.25,255.62 L567.50,255.04 L567.75,254.47 L568.00,253.90 L568.25,253.34 L568.50,252.78 L568.75,252.23 L569.00,251.69 L569.25,251.15 L569.50,250.62 L569.75,250.10 L570.00,249.58 L570.25,249.08 L570.50,248.58 L570.75,248.09 L571.00,247.61 L571.25,247.14 L571.50,246.68 L571.75,246.22 L572.00,245.78 L572.25,245.35 L572.50,244.93 L572.75,244.52 L573.00,244.12 L573.25,243.73 L573.50,243.35 L573.75,242.98 L574.00,242.63 L574.25,242.28 L574.50,241.95 L574.75,241.63 L575.00,241.32 L575.25,241.03 L575.50,240.75 L575.75,240.48 L576.00,240.22 L576.25,239.98 L576.50,239.75 L576.75,239.53 L577.00,239.33 L577.25,239.14 L577.50,238.96 L577.75,238.80 L578.00,238.65 L578.25,238.52 L578.50,238.40 L578.75,238.29 L579.00,238.20 L579.25,238.12 L579.50,238.05 L579.75,238.00 L580.00,237.97 L580.25,237.95 L580.50,237.94 L580.75,237.95 L581.00,237.99 L581.25,238.05 L581.50,238.13 L581.75,238.24 L582.00,238.38 L582.25,238.54 L582.50,238.72 L582.75,238.92 L583.00,239.15 L583.25,239.40 L583.50,239.68 L583.75,239.98 L584.00,240.30 L584.25,240.64 L584.50,241.01 L584.75,241.39 L585.00,241.80 L585.25,242.23 L585.50,242.68 L585.75,243.15 L586.00,243.64 L586.25,244.15 L586.50,244.67 L586.75,245.22 L587.00,245.78 L587.25,246.36 L587.50,246.96 L587.75,247.57 L588.00,248.20 L588.25,248.85 L588.50,249.51 L588.75,250.18 L589.00,250.86 L589.25,251.56 L589.50,252.27 L589.75,252.99 L590.00,253.73 L590.25,254.47 L590.50,255.22 L590.75,255.98 L591.00,256.75 L591.25,257.53 L591.50,258.31 L591.75,259.10 L592.00,259.89 L592.25,260.69 L592.50,261.49 L592.75,262.29 L593.00,263.10 L593.25,263.91 L593.50,264.72 L593.75,263.39 L594.00,262.07 L594.25,260.75 L594.50,259.43 L594.75,258.11 L595.00,256.79 L595.25,255.48 L595.50,254.17 L595.75,252.87 L596.00,251.57 L596.25,250.28 L596.50,249.00 L596.75,247.72 L597.00,246.45 L597.25,245.19 L597.50,243.93 L597.75,242.69 L598.00,241.46 L598.25,240.23 L598.50,239.02 L598.75,237.82 L599.00,236.63 L599.25,235.45 L599.50,234.29 L599.75,233.14 L600.00,232.01 L600.25,230.89 L600.50,229.78 L600.75,228.69 L601.00,227.62 L601.25,226.56 L601.50,225.52 L601.75,224.50 L602.00,223.50 L602.25,222.51 L602.50,221.55 L602.75,220.60 L603.00,219.68 L603.25,218.77 L603.50,217.88 L603.75,217.02 L604.00,216.18 L604.25,215.36 L604.50,214.56 L604.75,213.78 L605.00,213.03 L605.25,212.30 L605.50,211.59 L605.75,210.91 L606.00,210.25 L606.25,209.62 L606.50,209.01 L606.75,208.43 L607.00,207.87 L607.25,207.33 L607.50,206.83 L607.75,206.35 L608.00,205.89 L608.25,205.46 L608.50,205.06 L608.75,204.69 L609.00,204.34 L609.25,204.02 L609.50,203.73 L609.75,203.46 L610.00,203.23 L610.25,203.02 L610.50,202.83 L610.75,202.68 L611.00,202.55 L611.25,202.46 L611.50,202.38 L611.75,202.34 L612.00,202.33 L612.25,202.36 L612.50,202.45 L612.75,202.59 L613.00,202.80 L613.25,203.06 L613.50,203.38 L613.75,203.76 L614.00,204.20 L614.25,204.69 L614.50,205.24 L614.75,205.85 L615.00,206.51 L615.25,207.23 L615.50,208.00 L615.75,208.82 L616.00,209.70 L616.25,210.62 L616.50,211.60 L616.75,212.63 L617.00,213.71 L617.25,214.84 L617.50,216.01 L617.75,217.23 L618.00,218.49 L618.25,219.80 L618.50,221.15 L618.75,222.54 L619.00,223.97 L619.25,225.44 L619.50,226.94 L619.75,228.48 L620.00,230.06 L620.25,231.66 L620.50,233.30 L620.75,234.97 L621.00,236.67 L621.25,238.39 L621.50,240.14 L621.75,241.91 L622.00,243.70 L622.25,245.51 L622.50,247.34 L622.75,249.19 L623.00,251.05 L623.25,252.92 L623.50,254.81 L623.75,256.70 L624.00,258.60 L624.25,260.51 L624.50,262.42 L624.75,264.33 L625.00,264.55 L625.25,262.20 L625.50,259.80 L625.75,257.37 L626.00,254.89 L626.25,252.38 L626.50,249.83 L626.75,247.24 L627.00,244.61 L627.25,241.95 L627.50,239.26 L627.75,236.53 L628.00,233.77 L628.25,230.98 L628.50,228.17 L628.75,225.32 L629.00,222.44 L629.25,219.54 L629.50,216.62 L629.75,213.67 L630.00,210.69 L630.25,207.70 L630.50,204.69 L630.75,201.65 L631.00,198.61 L631.25,195.54 L631.50,192.46 L631.75,189.37 L632.00,186.26 L632.25,183.15 L632.50,180.02 L632.75,176.89 L633.00,173.75 L633.25,170.61 L633.50,167.47 L633.75,164.32 L634.00,161.17 L634.25,158.02 L634.50,154.88 L634.75,151.74 L635.00,148.61 L635.25,145.48 L635.50,142.36 L635.75,139.25 L636.00,136.15 L636.25,133.07 L636.50,130.00 L636.75,126.94 L637.00,123.91 L637.25,120.89 L637.50,117.89 L637.75,114.92 L638.00,111.96 L638.25,109.04 L638.50,106.14 L638.75,103.26 L639.00,100.42 L639.25,97.60 L639.50,94.82 L639.75,92.07 L640.00,89.36 L640.25,86.68 L640.50,84.04 L640.75,81.43 L641.00,78.87 L641.25,76.35 L641.50,73.87 L641.75,71.43 L642.00,69.04 L642.25,66.70 L642.50,64.40 L642.75,62.15 L643.00,59.95 L643.25,57.81 L643.50,55.71 L643.75,53.67 L644.00,51.68 L644.25,49.74 L644.50,47.86 L644.75,46.04 L645.00,44.28 L645.25,42.57 L645.50,40.93 L645.75,39.34 L646.00,37.82 L646.25,36.36 L646.50,34.96 L646.75,33.63 L647.00,32.35 L647.25,31.15 L647.50,30.01 L647.75,28.93 L648.00,27.93 L648.25,26.99 L648.50,26.11 L648.75,25.31 L649.00,24.57 L649.25,23.91 L649.50,23.31 L649.75,22.78 L650.00,22.32 L650.25,21.93 L650.50,21.62 L650.75,21.37 L651.00,21.19 L651.25,21.09 L651.50,21.05 L651.75,21.09 L652.00,21.19 L652.25,21.37 L652.50,21.62 L652.75,21.93 L653.00,22.32 L653.25,22.78 L653.50,23.31 L653.75,23.91 L654.00,24.57 L654.25,25.31 L654.50,26.11 L654.75,26.99 L655.00,27.93 L655.25,28.93 L655.50,30.01 L655.75,31.15 L656.00,32.35 L656.25,33.63 L656.50,34.96 L656.75,36.36 L657.00,37.82 L657.25,39.34 L657.50,40.93 L657.75,42.57 L658.00,44.28 L658.25,46.04 L658.50,47.86 L658.75,49.74 L659.00,51.68 L659.25,53.67 L659.50,55.71 L659.75,57.81 L660.00,59.95 L660.25,62.15 L660.50,64.40 L660.75,66.70 L661.00,69.04 L661.25,71.43 L661.50,73.87 L661.75,76.35 L662.00,78.87 L662.25,81.43 L662.50,84.04 L662.75,86.68 L663.00,89.36 L663.25,92.07 L663.50,94.82 L663.75,97.60 L664.00,100.42 L664.25,103.26 L664.50,106.14 L664.75,109.04 L665.00,111.96 L665.25,114.92 L665.50,117.89 L665.75,120.89 L666.00,123.91 L666.25,126.94 L666.50,130.00 L666.75,133.07 L667.00,136.15 L667.25,139.25 L667.50,142.36 L667.75,145.48 L668.00,148.61 L668.25,151.74 L668.50,154.88 L668.75,158.02 L669.00,161.17 L669.25,164.32 L669.50,167.47 L669.75,170.61 L670.00,173.75 L670.25,176.89 L670.50,180.02 L670.75,183.15 L671.00,186.26 L671.25,189.37 L671.50,192.46 L671.75,195.54 L672.00,198.61 L672.25,201.65 L672.50,204.69 L672.75,207.70 L673.00,210.69 L673.25,213.67 L673.50,216.62 L673.75,219.54 L674.00,222.44 L674.25,225.32 L674.50,228.17 L674.75,230.98 L675.00,233.77 L675.25,236.53 L675.50,239.26 L675.75,241.95 L676.00,244.61 L676.25,247.24 L676.50,249.83 L676.75,252.38 L677.00,254.89 L677.25,257.37 L677.50,259.80 L677.75,262.20 L678.00,264.55 L678.25,264.33 L678.50,262.42 L678.75,260.51 L679.00,258.60 L679.25,256.70 L679.50,254.81 L679.75,252.92 L680.00,251.05 L680.25,249.19 L680.50,247.34 L680.75,245.51 L681.00,243.70 L681.25,241.91 L681.50,240.14 L681.75,238.39 L682.00,236.67 L682.25,234.97 L682.50,233.30 L682.75,231.66 L683.00,230.06 L683.25,228.48 L683.50,226.94 L683.75,225.44 L684.00,223.97 L684.25,222.54 L684.50,221.15 L684.75,219.80 L685.00,218.49 L685.25,217.23 L685.50,216.01 L685.75,214.84 L686.00,213.71 L686.25,212.63 L686.50,211.60 L686.75,210.62 L687.00,209.70 L687.25,208.82 L687.50,208.00 L687.75,207.23 L688.00,206.51 L688.25,205.85 L688.50,205.24 L688.75,204.69 L689.00,204.20 L689.25,203.76 L689.50,203.38 L689.75,203.06 L690.00,202.80 L690.25,202.59 L690.50,202.45 L690.75,202.36 L691.00,202.33 L691.25,202.34 L691.50,202.38 L691.75,202.46 L692.00,202.55 L692.25,202.68 L692.50,202.83 L692.75,203.02 L693.00,203.23 L693.25,203.46 L693.50,203.73 L693.75,204.02 L694.00,204.34 L694.25,204.69 L694.50,205.06 L694.75,205.46 L695.00,205.89 L695.25,206.35 L695.50,206.83 L695.75,207.33 L696.00,207.87 L696.25,208.43 L696.50,209.01 L696.75,209.62 L697.00,210.25 L697.25,210.91 L697.50,211.59 L697.75,212.30 L698.00,213.03 L698.25,213.78 L698.50,214.56 L698.75,215.36 L699.00,216.18 L699.25,217.02 L699.50,217.88 L699.75,218.77 L700.00,219.68 L700.25,220.60 L700.50,221.55 L700.75,222.51 L701.00,223.50 L701.25,224.50 L701.50,225.52 L701.75,226.56 L702.00,227.62 L702.25,228.69 L702.50,229.78 L702.75,230.89 L703.00,232.01 L703.25,233.14 L703.50,234.29 L703.75,235.45 L704.00,236.63 L704.25,237.82 L704.50,239.02 L704.75,240.23 L705.00,241.46 L705.25,242.69 L705.50,243.93 L705.75,245.19 L706.00,246.45 L706.25,247.72 L706.50,249.00 L706.75,250.28 L707.00,251.57 L707.25,252.87 L707.50,254.17 L707.75,255.48 L708.00,256.79 L708.25,258.11 L708.50,259.43 L708.75,260.75 L709.00,262.07 L709.25,263.39 L709.50,264.72 L709.75,263.91 L710.00,263.10 L710.25,262.29 L710.50,261.49 L710.75,260.69 L711.00,259.89 L711.25,259.10 L711.50,258.31 L711.75,257.53 L712.00,256.75 L712.25,255.98 L712.50,255.22 L712.75,254.47 L713.00,253.73 L713.25,252.99 L713.50,252.27 L713.75,251.56 L714.00,250.86 L714.25,250.18 L714.50,249.51 L714.75,248.85 L715.00,248.20 L715.25,247.57 L715.50,246.96 L715.75,246.36 L716.00,245.78 L716.25,245.22 L716.50,244.67 L716.75,244.15 L717.00,243.64 L717.25,243.15 L717.50,242.68 L717.75,242.23 L718.00,241.80 L718.25,241.39 L718.50,241.01 L718.75,240.64 L719.00,240.30 L719.25,239.98 L719.50,239.68 L719.75,239.40 L720.00,239.15 L720.25,238.92 L720.50,238.72 L720.75,238.54 L721.00,238.38 L721.25,238.24 L721.50,238.13 L721.75,238.05 L722.00,237.99 L722.25,237.95 L722.50,237.94 L722.75,237.95 L723.00,237.97 L723.25,238.00 L723.50,238.05 L723.75,238.12 L724.00,238.20 L724.25,238.29 L724.50,238.40 L724.75,238.52 L725.00,238.65 L725.25,238.80 L725.50,238.96 L725.75,239.14 L726.00,239.33 L726.25,239.53 L726.50,239.75 L726.75,239.98 L727.00,240.22 L727.25,240.48 L727.50,240.75 L727.75,241.03 L728.00,241.32 L728.25,241.63 L728.50,241.95 L728.75,242.28 L729.00,242.63 L729.25,242.98 L729.50,243.35 L729.75,243.73 L730.00,244.12 L730.25,244.52 L730.50,244.93 L730.75,245.35 L731.00,245.78 L731.25,246.22 L731.50,246.68 L731.75,247.14 L732.00,247.61 L732.25,248.09 L732.50,248.58 L732.75,249.08 L733.00,249.58 L733.25,250.10 L733.50,250.62 L733.75,251.15 L734.00,251.69 L734.25,252.23 L734.50,252.78 L734.75,253.34 L735.00,253.90 L735.25,254.47 L735.50,255.04 L735.75,255.62 L736.00,256.21 L736.25,256.80 L736.50,257.39 L736.75,257.99 L737.00,258.59 L737.25,259.19 L737.50,259.80 L737.75,260.41 L738.00,261.02 L738.25,261.63 L738.50,262.25 L738.75,262.86 L739.00,263.48 L739.25,264.10 L739.50,264.72 L739.75,264.36 L740.00,264.01 L740.25,263.65 L740.50,263.30 L740.75,262.95 L741.00,262.59 L741.25,262.25 L741.50,261.90 L741.75,261.56 L742.00,261.21 L742.25,260.88 L742.50,260.54 L742.75,260.21 L743.00,259.88 L743.25,259.56 L743.50,259.24 L743.75,258.93 L744.00,258.63 L744.25,258.32 L744.50,258.03 L744.75,257.74 L745.00,257.45 L745.25,257.18 L745.50,256.91 L745.75,256.65 L746.00,256.39 L746.25,256.14 L746.50,255.90 L746.75,255.67 L747.00,255.45 L747.25,255.23 L747.50,255.03 L747.75,254.83 L748.00,254.64 L748.25,254.46 L748.50,254.29 L748.75,254.13 L749.00,253.98 L749.25,253.84 L749.50,253.71 L749.75,253.58 L750.00,253.47 L750.25,253.37 L750.50,253.28 L750.75,253.20 L751.00,253.13 L751.25,253.07 L751.50,253.03 L751.75,252.99 L752.00,252.96 L752.25,252.95 L752.50,252.94 L752.75,252.94 L753.00,252.95 L753.25,252.97 L753.50,252.99 L753.75,253.03 L754.00,253.06 L754.25,253.11 L754.50,253.16 L754.75,253.21 L755.00,253.28 L755.25,253.35 L755.50,253.42 L755.75,253.51 L756.00,253.60 L756.25,253.69 L756.50,253.79 L756.75,253.90 L757.00,254.02 L757.25,254.14 L757.50,254.27 L757.75,254.40 L758.00,254.54 L758.25,254.68 L758.50,254.83 L758.75,254.99 L759.00,255.15 L759.25,255.32 L759.50,255.49 L759.75,255.67 L760.00,255.85 L760.25,256.04 L760.50,256.23 L760.75,256.43 L761.00,256.63 L761.25,256.84 L761.50,257.05 L761.75,257.27 L762.00,257.49 L762.25,257.71 L762.50,257.94 L762.75,258.17 L763.00,258.41 L763.25,258.65 L763.50,258.89 L763.75,259.14 L764.00,259.39 L764.25,259.64 L764.50,259.90 L764.75,260.16 L765.00,260.42 L765.25,260.68 L765.50,260.95 L765.75,261.22 L766.00,261.49 L766.25,261.76 L766.50,262.03 L766.75,262.31 L767.00,262.59 L767.25,262.86 L767.50,263.14 L767.75,263.42 L768.00,263.70 L768.25,263.98 L768.50,264.27 L768.75,264.55 L769.00,264.65 L769.25,264.47 L769.50,264.30 L769.75,264.12 L770.00,263.95 L770.25,263.77 L770.50,263.60 L770.75,263.43 L771.00,263.26 L771.25,263.09 L771.50,262.92 L771.75,262.76 L772.00,262.60 L772.25,262.44 L772.50,262.28 L772.75,262.13 L773.00,261.97 L773.25,261.82 L773.50,261.68 L773.75,261.54 L774.00,261.40 L774.25,261.26 L774.50,261.13 L774.75,261.00 L775.00,260.88 L775.25,260.76 L775.50,260.64 L775.75,260.53 L776.00,260.42 L776.25,260.32 L776.50,260.23 L776.75,260.13 L777.00,260.05 L777.25,259.96 L777.50,259.89 L777.75,259.82 L778.00,259.75 L778.25,259.69 L778.50,259.63 L778.75,259.58 L779.00,259.54 L779.25,259.50 L779.50,259.47 L779.75,259.44 L780.00,259.42 L780.25,259.40 L780.50,259.39 L780.75,259.39 L781.00,259.39 L781.25,259.39 L781.50,259.40 L781.75,259.41 L782.00,259.42 L782.25,259.43 L782.50,259.44 L782.75,259.46 L783.00,259.48 L783.25,259.50 L783.50,259.52 L783.75,259.54 L784.00,259.57 L784.25,259.60 L784.50,259.63 L784.75,259.67 L785.00,259.70 L785.25,259.74 L785.50,259.78 L785.75,259.82 L786.00,259.86 L786.25,259.91 L786.50,259.96 L786.75,260.01 L787.00,260.06 L787.25,260.11 L787.50,260.17 L787.75,260.23 L788.00,260.29 L788.25,260.35 L788.50,260.41 L788.75,260.48 L789.00,260.54 L789.25,260.61 L789.50,260.68 L789.75,260.76 L790.00,260.83 L790.25,260.90 L790.50,260.98 L790.75,261.06 L791.00,261.14 L791.25,261.22 L791.50,261.30 L791.75,261.39 L792.00,261.47 L792.25,261.56 L792.50,261.65 L792.75,261.74 L793.00,261.83 L793.25,261.92 L793.50,262.02 L793.75,262.11 L794.00,262.21 L794.25,262.30 L794.50,262.40 L794.75,262.50 L795.00,262.60 L795.25,262.70 L795.50,262.80 L795.75,262.90 L796.00,263.01 L796.25,263.11 L796.50,263.21 L796.75,263.32 L797.00,263.42 L797.25,263.53 L797.50,263.64 L797.75,263.74 L798.00,263.85 L798.25,263.96 L798.50,264.07 L798.75,264.17 L799.00,264.28 L799.25,264.39 L799.50,264.50" fill="none" stroke="#000" stroke-width="1.75" stroke-linejoin="round"/><path d="M503.5,8.0 V281.0 M799.5,8.0 V281.0" stroke="#a0a0a0" stroke-width="1" fill="none"/><path d="M503.0,8.5 H800.0 M503.0,280.5 H800.0" stroke="#939393" stroke-width="1" fill="none"/><path d="M559.00,280.0v-3.5 M559.00,9.0v3.5 M651.50,280.0v-3.5 M651.50,9.0v3.5 M744.00,280.0v-3.5 M744.00,9.0v3.5 M504.0,196.30h3.5 M799.0,196.30h-3.5 M504.0,126.20h3.5 M799.0,126.20h-3.5 M504.0,56.10h3.5 M799.0,56.10h-3.5" stroke="#6a6a6a" stroke-width="1" fill="none"/><text transform="translate(556.40,299.30) scale(0.8,1)" font-family="Liberation Sans, sans-serif" font-size="15.6" text-anchor="middle" stroke="#000" stroke-width="0.15">-5</text><text transform="translate(651.50,299.30) scale(0.8,1)" font-family="Liberation Sans, sans-serif" font-size="15.6" text-anchor="middle" stroke="#000" stroke-width="0.15">0</text><text transform="translate(744.00,299.30) scale(0.8,1)" font-family="Liberation Sans, sans-serif" font-size="15.6" text-anchor="middle" stroke="#000" stroke-width="0.15">5</text><text transform="translate(501.20,272.80) scale(0.8,1)" font-family="Liberation Sans, sans-serif" font-size="15.6" text-anchor="end" stroke="#000" stroke-width="0.15">0</text><text transform="translate(501.20,202.70) scale(0.8,1)" font-family="Liberation Sans, sans-serif" font-size="15.6" text-anchor="end" stroke="#000" stroke-width="0.15">5</text><text transform="translate(501.20,132.60) scale(0.8,1)" font-family="Liberation Sans, sans-serif" font-size="15.6" text-anchor="end" stroke="#000" stroke-width="0.15">10</text><text transform="translate(501.20,62.50) scale(0.8,1)" font-family="Liberation Sans, sans-serif" font-size="15.6" text-anchor="end" stroke="#000" stroke-width="0.15">15</text><text transform="translate(651,318) scale(0.845,1)" font-family="Liberation Sans, sans-serif" font-size="15.6" text-anchor="middle" stroke="#000" stroke-width="0.15">MHz</text><text transform="translate(480.8,145) scale(0.8,1) rotate(-90)" font-family="Liberation Sans, sans-serif" font-size="16" text-anchor="middle" stroke="#000" stroke-width="0.15">kW/MHz</text><text x="437.3" y="322.6" font-family="Liberation Sans, sans-serif" font-size="18.5">b<tspan dx="1">)</tspan></text></svg>
</body></html>
